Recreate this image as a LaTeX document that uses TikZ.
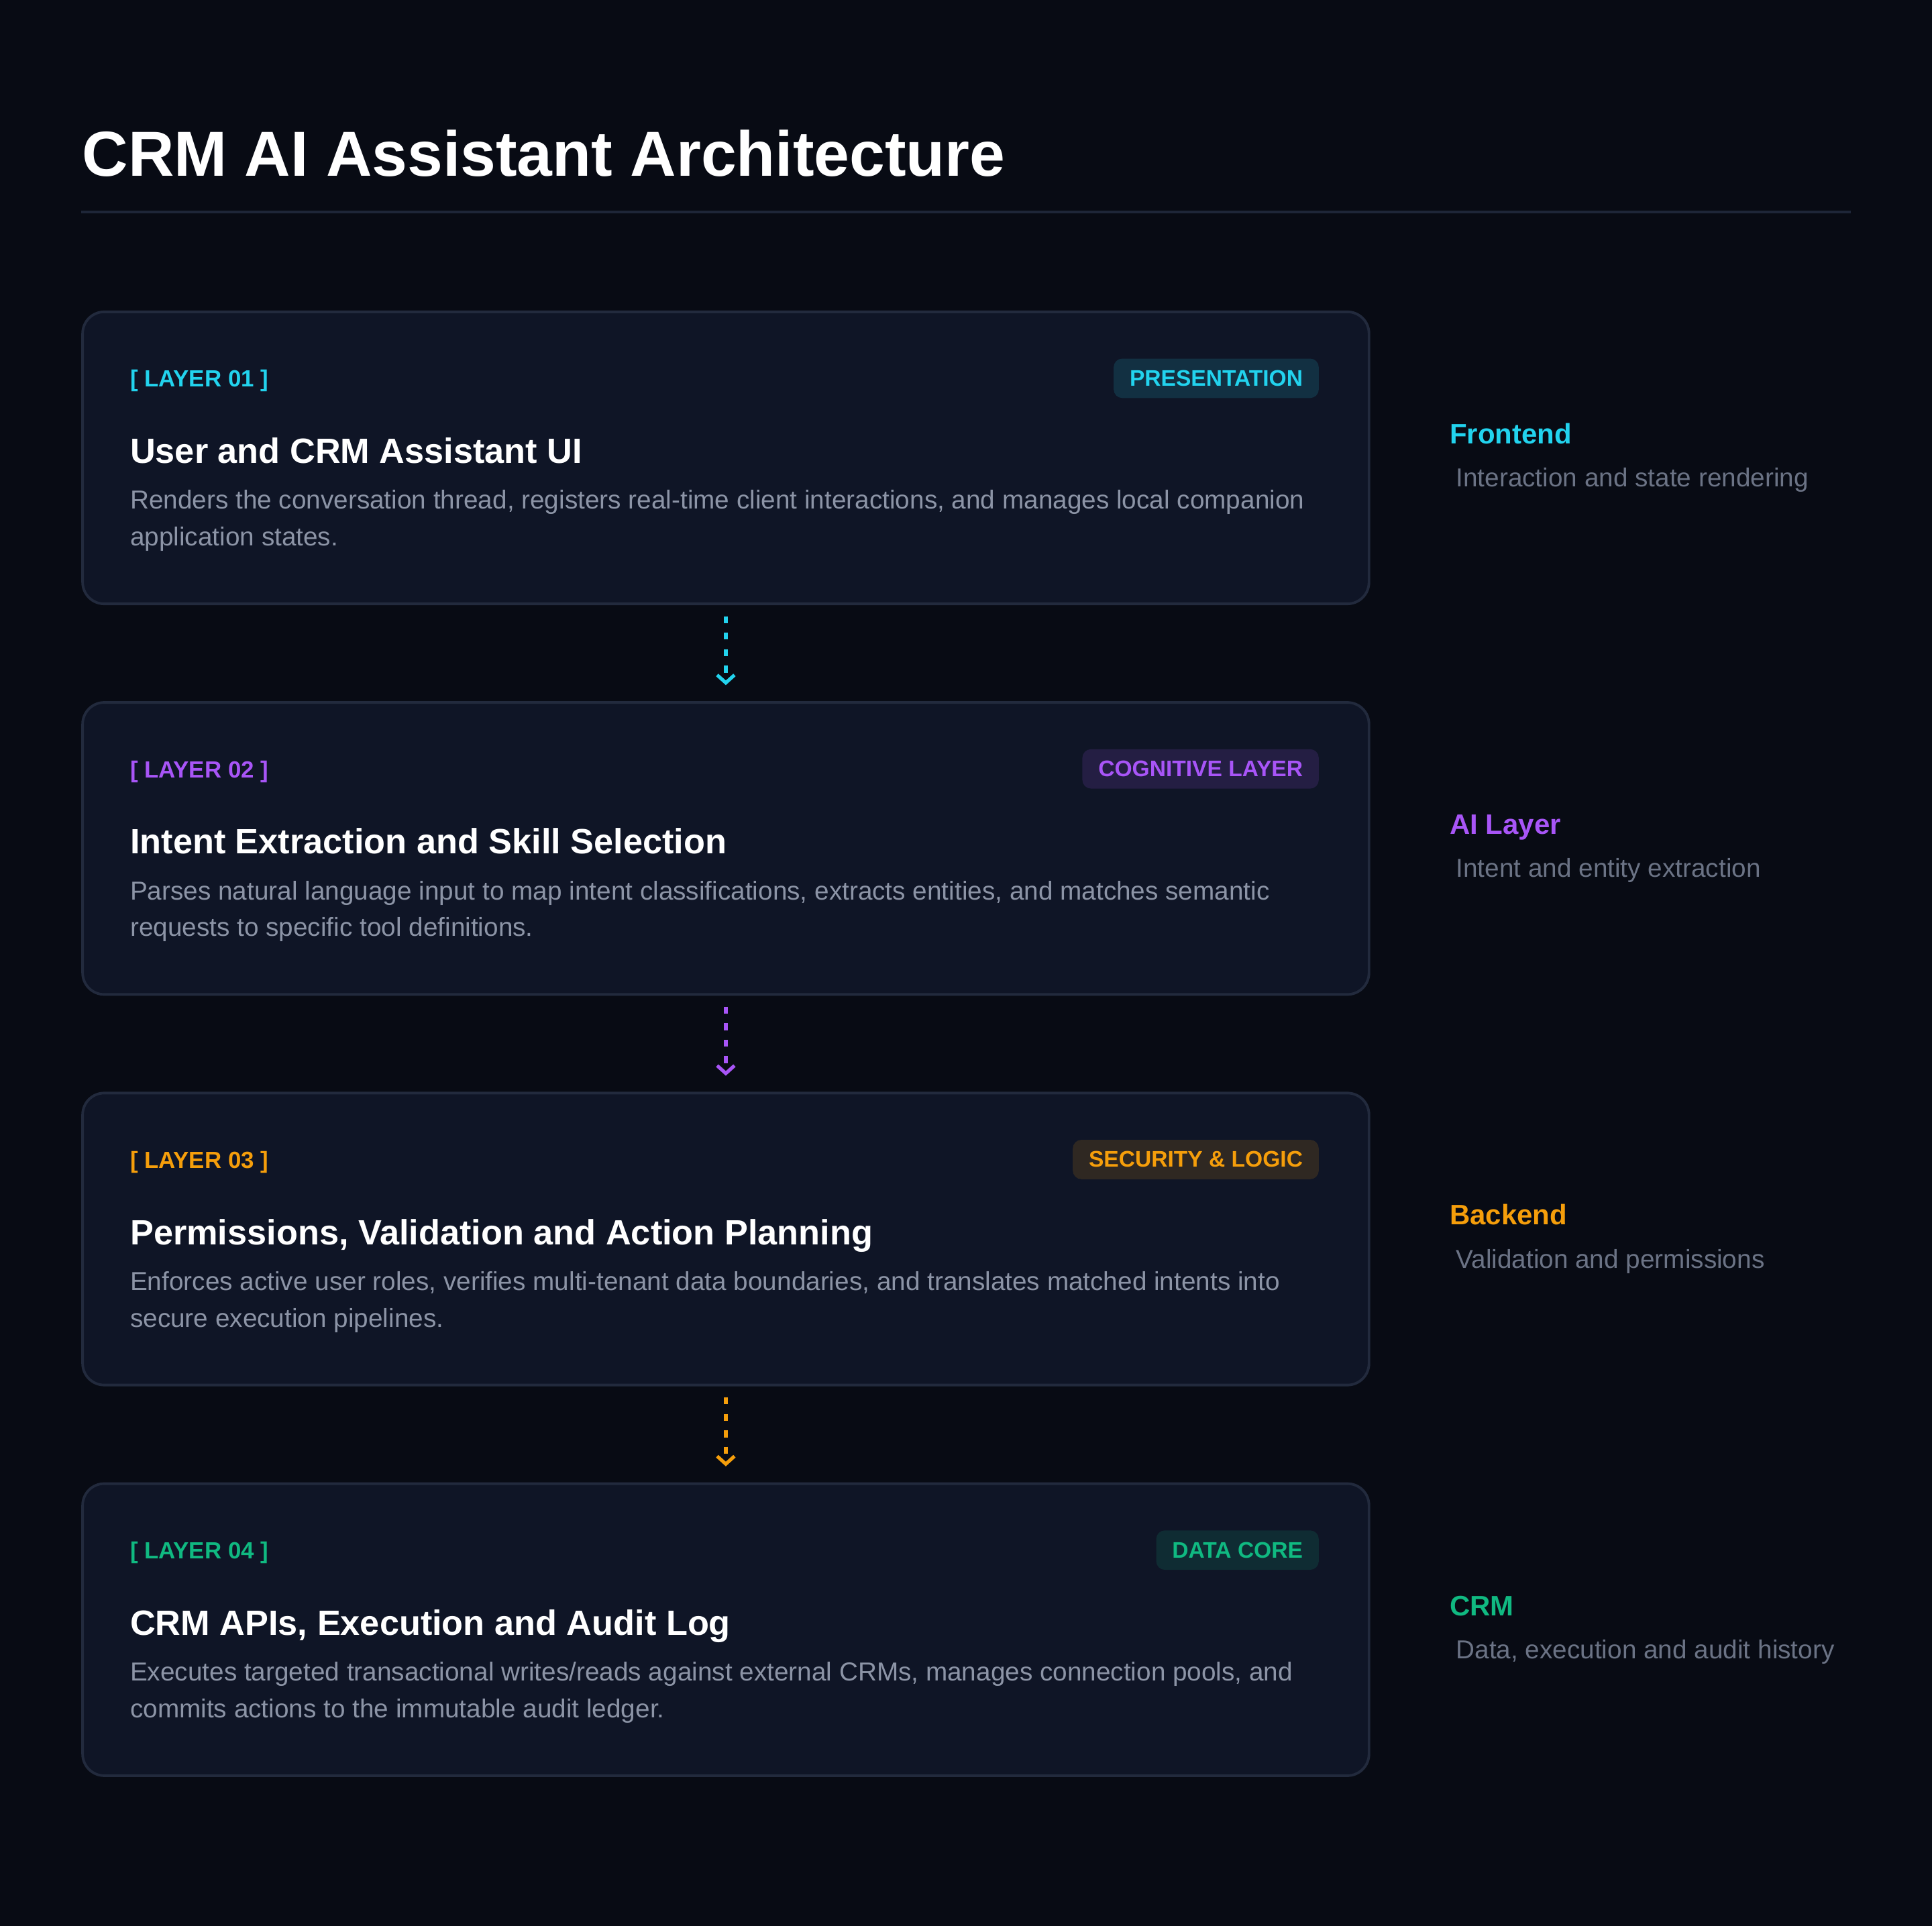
\documentclass[tikz,border=0pt]{standalone}
\usepackage{fontspec}
\setmainfont{Liberation Sans}
\usetikzlibrary{arrows.meta,positioning}
\definecolor{bg}{HTML}{080B14}
\definecolor{boxfill}{HTML}{0F1526}
\definecolor{boxline}{HTML}{222A3D}
\definecolor{rule}{HTML}{1E2638}
\definecolor{bodytext}{HTML}{8C94A6}
\definecolor{sidetext}{HTML}{6B7385}
\definecolor{cyanc}{HTML}{22D3EE}
\definecolor{purplec}{HTML}{A855F7}
\definecolor{amberc}{HTML}{F59E0B}
\definecolor{greenc}{HTML}{10B981}
\tikzset{
  layer/.style={draw=boxline, line width=0.6pt, fill=boxfill, rounded corners=5pt,
    minimum width=10.44cm, minimum height=2.37cm, anchor=north west, inner sep=0pt},
  tag/.style={fill=#1!14!boxfill, text=#1, rounded corners=2pt, anchor=east,
    minimum height=0.32cm, inner xsep=0.13cm, inner ysep=0pt,
    font=\fontsize{5.2}{6}\selectfont\bfseries},
  label/.style={anchor=base west, inner sep=0pt, text=#1, font=\fontsize{5.4}{6}\selectfont\bfseries},
  heading/.style={anchor=base west, inner sep=0pt, text=white, font=\fontsize{8.1}{10}\selectfont\bfseries},
  body/.style={anchor=base west, inner sep=0pt, text=bodytext, align=left,
    font=\fontsize{6}{8.5}\selectfont},
  side/.style={anchor=base west, inner sep=0pt, text=#1, font=\fontsize{6.5}{8}\selectfont\bfseries},
  sidesub/.style={anchor=base west, inner sep=0pt, text=sidetext, font=\fontsize{6}{8}\selectfont},
  flow/.style={draw=#1, line width=0.8pt, dash pattern=on 1.6pt off 2.2pt,
    -{Straight Barb[length=1.8pt,width=4pt,line width=0.8pt]}}
}
\begin{document}
\begin{tikzpicture}
\fill[bg] (0,0) rectangle (15.68,-15.63);
\useasboundingbox (0,0) rectangle (15.68,-15.63);
% title
\node[anchor=base west, inner sep=0pt, text=white, font=\fontsize{14.7}{18}\selectfont\bfseries]
  (title) at (0.66,-1.43) {CRM AI Assistant Architecture};
\draw[rule, line width=0.7pt] (0.66,-1.72) -- (15.02,-1.72);

% layer 01
\node[layer] (box1) at (0.66,-2.52) {};
\node[label=cyanc] (lab1) at (1.05,-3.14) {[ LAYER 01 ]};
\node[tag=cyanc] (tag1) at (10.71,-3.07) {PRESENTATION};
\node[heading] (head1) at (1.05,-3.76) {User and CRM Assistant UI};
\node[body] (txt1) at (1.05,-4.43) {Renders the conversation thread, registers real-time client interactions, and manages local companion\\application states.};
\node[side=cyanc] (side1) at (11.76,-3.60) {Frontend};
\node[sidesub] (sub1) at (11.81,-3.95) {Interaction and state rendering};

% layer 02
\node[layer] (box2) at (0.66,-5.69) {};
\node[label=purplec] (lab2) at (1.05,-6.31) {[ LAYER 02 ]};
\node[tag=purplec] (tag2) at (10.71,-6.24) {COGNITIVE LAYER};
\node[heading] (head2) at (1.05,-6.93) {Intent Extraction and Skill Selection};
\node[body] (txt2) at (1.05,-7.60) {Parses natural language input to map intent classifications, extracts entities, and matches semantic\\requests to specific tool definitions.};
\node[side=purplec] (side2) at (11.76,-6.77) {AI Layer};
\node[sidesub] (sub2) at (11.81,-7.12) {Intent and entity extraction};

% layer 03
\node[layer] (box3) at (0.66,-8.86) {};
\node[label=amberc] (lab3) at (1.05,-9.48) {[ LAYER 03 ]};
\node[tag=amberc] (tag3) at (10.71,-9.41) {SECURITY \& LOGIC};
\node[heading] (head3) at (1.05,-10.10) {Permissions, Validation and Action Planning};
\node[body] (txt3) at (1.05,-10.77) {Enforces active user roles, verifies multi-tenant data boundaries, and translates matched intents into\\secure execution pipelines.};
\node[side=amberc] (side3) at (11.76,-9.94) {Backend};
\node[sidesub] (sub3) at (11.81,-10.29) {Validation and permissions};

% layer 04
\node[layer] (box4) at (0.66,-12.03) {};
\node[label=greenc] (lab4) at (1.05,-12.65) {[ LAYER 04 ]};
\node[tag=greenc] (tag4) at (10.71,-12.58) {DATA CORE};
\node[heading] (head4) at (1.05,-13.27) {CRM APIs, Execution and Audit Log};
\node[body] (txt4) at (1.05,-13.94) {Executes targeted transactional writes/reads against external CRMs, manages connection pools, and\\commits actions to the immutable audit ledger.};
\node[side=greenc] (side4) at (11.76,-13.11) {CRM};
\node[sidesub] (sub4) at (11.81,-13.46) {Data, execution and audit history};

% connectors
\draw[flow=cyanc] ([yshift=-0.09cm]box1.south) -- ([yshift=0.13cm]box2.north);
\draw[flow=purplec] ([yshift=-0.09cm]box2.south) -- ([yshift=0.13cm]box3.north);
\draw[flow=amberc] ([yshift=-0.09cm]box3.south) -- ([yshift=0.13cm]box4.north);
\end{tikzpicture}
\end{document}
